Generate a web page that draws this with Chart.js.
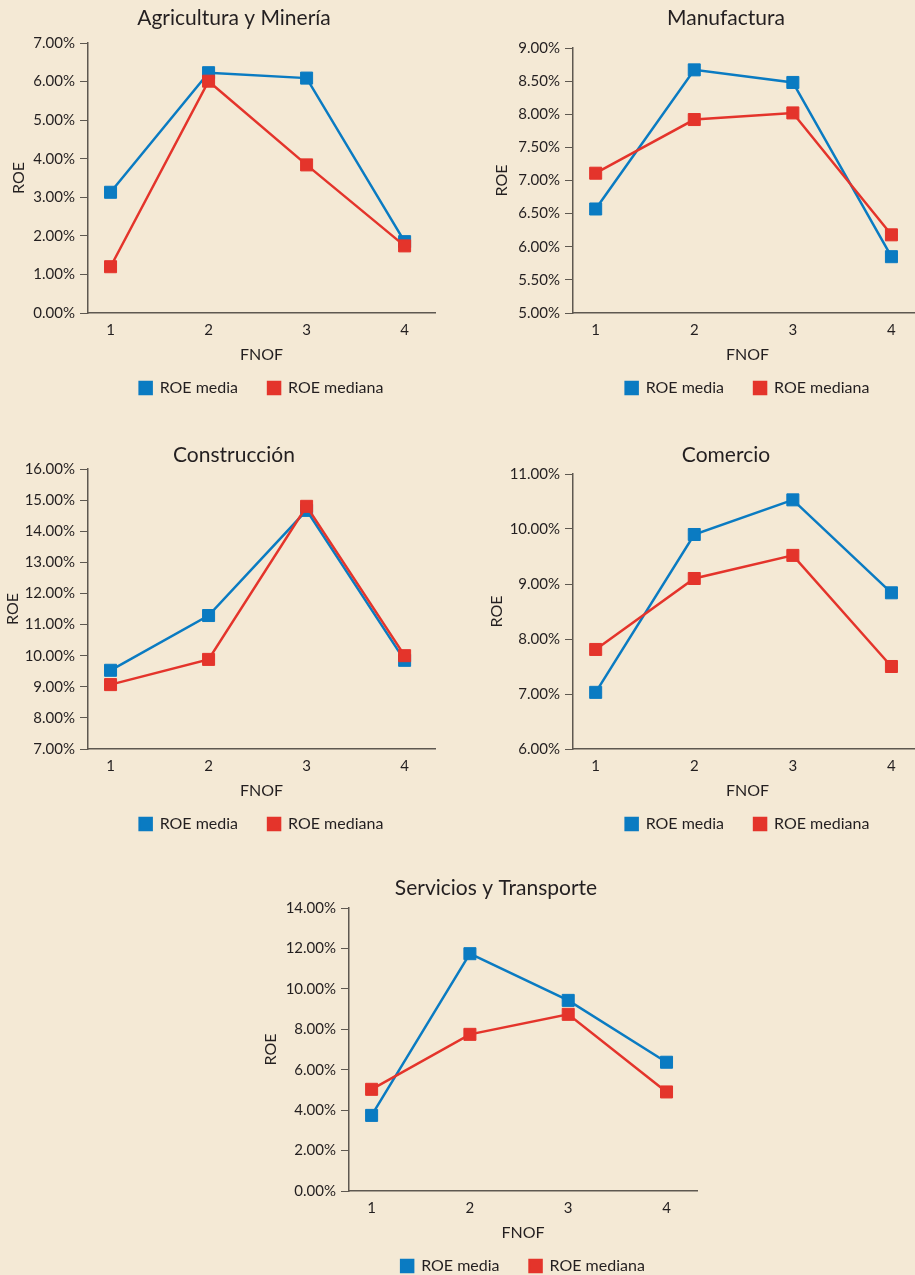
<!DOCTYPE html>
<html>
<head>
<meta charset="utf-8">
<title>ROE por FNOF y sector</title>
<script src="https://cdn.jsdelivr.net/npm/chart.js@4.4.1/dist/chart.umd.min.js"></script>
<style>
  html, body { margin: 0; padding: 0; background: #f4e9d5; width: 915px; height: 1275px; overflow: hidden; }
  canvas { position: absolute; }
</style>
</head>
<body>
<canvas id="agri"></canvas>
<canvas id="manu"></canvas>
<canvas id="cons"></canvas>
<canvas id="come"></canvas>
<canvas id="serv"></canvas>
<script>
// FNOF groups on the horizontal axis
const fnof = [1, 2, 3, 4];
const seriesNames = ['ROE media', 'ROE mediana'];

// ROE (%) by sector
const agriMedia   = [3.13, 6.23, 6.09, 1.85];
const agriMediana = [1.20, 6.01, 3.84, 1.74];
const manuMedia   = [6.57, 8.67, 8.48, 5.85];
const manuMediana = [7.11, 7.92, 8.02, 6.18];
const consMedia   = [9.53, 11.29, 14.67, 9.85];
const consMediana = [9.07, 9.88, 14.80, 10.00];
const comeMedia   = [7.03, 9.90, 10.53, 8.84];
const comeMediana = [7.81, 9.10, 9.52, 7.50];
const servMedia   = [3.74, 11.74, 9.43, 6.37];
const servMediana = [5.03, 7.75, 8.74, 4.90];

// y-axis ranges: [min, max, step]
const agriRange = [0, 7, 1];
const manuRange = [5, 9, 0.5];
const consRange = [7, 16, 1];
const comeRange = [6, 11, 1];
const servRange = [0, 14, 2];

const BLUE = '#0a7bc2';
const RED = '#e4342b';
const INK = '#231f20';
const AXIS = '#5e5850';
const FONT = 'Lato, "Open Sans", sans-serif';

function toPoints(values) {
  return fnof.map((f, i) => ({ x: f, y: values[i] }));
}

function build(id, g, title, media, mediana, range) {
  const cv = document.getElementById(id);
  cv.width = g.w; cv.height = g.h;
  cv.style.left = g.x + 'px'; cv.style.top = g.y + 'px';
  cv.style.width = g.w + 'px'; cv.style.height = g.h + 'px';

  new Chart(cv, {
    type: 'line',
    data: {
      datasets: [
        { label: seriesNames[0], data: toPoints(media), borderColor: BLUE, backgroundColor: BLUE, order: 2 },
        { label: seriesNames[1], data: toPoints(mediana), borderColor: RED, backgroundColor: RED, order: 1 }
      ]
    },
    options: {
      responsive: false,
      animation: false,
      devicePixelRatio: 1,
      events: [],
      layout: { padding: 0 },
      elements: {
        line: { borderWidth: 2.5, tension: 0 },
        point: { pointStyle: 'rect', radius: 8.5, borderWidth: 1 }
      },
      plugins: {
        title: {
          display: true, text: title, color: INK,
          font: { family: FONT, size: 21, weight: 'normal' },
          padding: { top: g.tt, bottom: g.tb }
        },
        legend: {
          position: 'bottom', fullSize: false,
          labels: {
            boxWidth: 12, boxHeight: 12, padding: 30, color: INK,
            font: { family: FONT, size: 16 },
            sort: (a, b) => a.datasetIndex - b.datasetIndex
          }
        },
        tooltip: { enabled: false }
      },
      scales: {
        x: {
          type: 'linear', min: 0.77, max: 4.31,
          afterBuildTicks: s => { s.ticks = fnof.map(v => ({ value: v })); },
          afterFit: s => { s.height = 37; },
          grid: { display: false, drawTicks: false },
          border: { color: AXIS, width: 1.5 },
          ticks: { color: INK, font: { family: FONT, size: 15 }, padding: 8, callback: v => String(v) },
          title: { display: true, text: 'FNOF', color: INK, font: { family: FONT, size: 16 }, padding: { top: 0, bottom: -14.6 } }
        },
        y: {
          type: 'linear', position: 'left', min: range[0], max: range[1],
          afterFit: s => { s.width = g.yw; },
          ticks: { stepSize: range[2], color: INK, font: { family: FONT, size: 15 }, padding: 5, callback: v => Number(v).toFixed(2) + '%' },
          grid: { drawOnChartArea: false, drawTicks: true, tickLength: 8, color: AXIS, tickColor: AXIS, lineWidth: 1 },
          border: { color: AXIS, width: 1.5 },
          title: { display: true, text: 'ROE', color: INK, font: { family: FONT, size: 16 }, padding: { top: g.rp, bottom: 0 } }
        },
        spacer: {
          type: 'linear', position: 'right', display: true,
          afterFit: s => { s.width = g.sw; },
          grid: { display: false }, border: { display: false }, ticks: { display: false }
        }
      }
    }
  });
}

build('agri', { x: 0,   y: 0,   w: 468, h: 406, yw: 88, sw: 33, tt: 5.4,  tb: 12.4, rp: 8.9 },
      'Agricultura y Minería', agriMedia, agriMediana, agriRange);
build('manu', { x: 485, y: 0,   w: 482, h: 406, yw: 88, sw: 45, tt: 5.4,  tb: 17.4, rp: 6.9 },
      'Manufactura', manuMedia, manuMediana, manuRange);
build('cons', { x: 0,   y: 430, w: 468, h: 412, yw: 88, sw: 33, tt: 12.4, tb: 1.4,  rp: 3.4 },
      'Construcción', consMedia, consMediana, consRange);
build('come', { x: 485, y: 430, w: 482, h: 412, yw: 88, sw: 45, tt: 12.4, tb: 6.4,  rp: 1.9 },
      'Comercio', comeMedia, comeMediana, comeRange);
build('serv', { x: 260, y: 860, w: 472, h: 424, yw: 89, sw: 35, tt: 15.4, tb: 7.4,  rp: 0.9 },
      'Servicios y Transporte', servMedia, servMediana, servRange);
</script>
</body>
</html>
